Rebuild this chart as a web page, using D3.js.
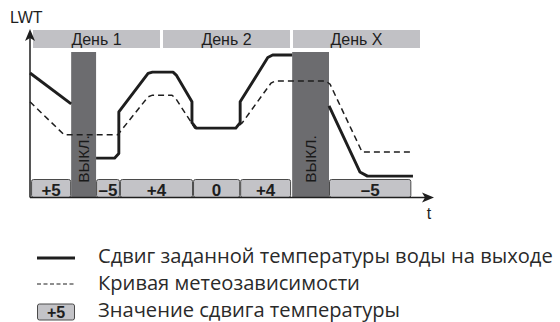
<!DOCTYPE html>
<html>
<head>
<meta charset="utf-8">
<script src="https://cdn.jsdelivr.net/npm/d3@7"></script>
<style>
  body { margin: 0; background: #fff; }
  svg { display: block; }
</style>
</head>
<body>
<svg id="chart" width="560" height="322"></svg>
<script>
// time in hours, LWT in °C
const days = ["День 1", "День 2", "День X"];
const dayStart = [0, 24, 48];
const dayEnd = [24, 48, 72];

const offPeriods = [[7.6, 12.2], [48.4, 55.2]];
const offLabel = "ВЫКЛ.";

const shiftLabels = ["+5", "–5", "+4", "0", "+4", "–5"];
const shiftStart = [0.2, 12.2, 16.6, 30.1, 38.8, 55.2];
const shiftEnd = [7.6, 16.6, 30.1, 38.8, 48.2, 70.4];

// solid line: shifted setpoint (three separate pieces)
const shiftedSegments = [
  [[0, 49.7], [7.6, 42.3]],
  [[12.2, 29.3], [15.6, 29.3], [16.4, 30.4], [16.4, 40.4], [21.8, 49.6], [22.6, 49.9],
   [26.4, 49.9], [27.0, 49.2], [29.9, 42.8], [29.9, 37.8], [30.7, 36.5],
   [38.0, 36.5], [38.8, 37.8], [38.8, 42.8], [43.9, 53.4], [44.8, 54.0], [48.4, 54.0]],
  [[55.2, 41.8], [60.9, 26.0], [62.3, 25.0], [70.7, 25.0]]
];

// dashed line: weather dependent curve
const weatherCurve = [
  [0, 42.8], [6.3, 34.9], [16.2, 34.9], [21.8, 44.0], [22.6, 44.4], [26.2, 44.4],
  [26.9, 43.6], [29.5, 38.4], [30.4, 36.5], [38.0, 36.5], [39.2, 37.8],
  [44.5, 47.3], [45.3, 47.8], [54.6, 47.8], [55.4, 47.0], [61.3, 30.8], [70.7, 30.8]
];

const legendItems = [
  "Сдвиг заданной температуры воды на выходе",
  "Кривая метеозависимости",
  "Значение сдвига температуры"
];

const svg = d3.select("#chart");

const x = d3.scaleLinear().domain([0, 72]).range([30, 420]);
const y = d3.scaleLinear().domain([20, 60]).range([197, 30]);

const dark = "#1e1e1e";
const font = "Liberation Sans, Arial, sans-serif";

// day header bars
const hdr = svg.append("g");
hdr.selectAll("rect")
  .data(days)
  .join("rect")
  .attr("x", (d, i) => x(dayStart[i]) + 3)
  .attr("y", 30)
  .attr("width", (d, i) => x(dayEnd[i]) - x(dayStart[i]) - 3)
  .attr("height", 18)
  .attr("fill", "#c1c1c5");
hdr.selectAll("text")
  .data(days)
  .join("text")
  .attr("x", (d, i) => (x(dayStart[i]) + 3 + x(dayEnd[i])) / 2)
  .attr("y", 45)
  .attr("text-anchor", "middle")
  .style("font-family", font)
  .style("font-size", "16px")
  .attr("fill", dark)
  .text(d => d);

// off periods
const off = svg.append("g");
off.selectAll("rect")
  .data(offPeriods)
  .join("rect")
  .attr("x", d => x(d[0]))
  .attr("y", 52)
  .attr("width", d => x(d[1]) - x(d[0]))
  .attr("height", 197 - 52)
  .attr("fill", "#6c6c6f");
off.selectAll("text")
  .data(offPeriods)
  .join("text")
  .attr("transform", d => `translate(${(x(d[0]) + x(d[1])) / 2 + 5.5},159) rotate(-90)`)
  .attr("text-anchor", "middle")
  .style("font-family", font)
  .style("font-size", "15.5px")
  .attr("fill", "#1a1a1a")
  .text(offLabel);

// shift value boxes
const boxes = svg.append("g");
boxes.selectAll("rect")
  .data(shiftLabels)
  .join("rect")
  .attr("x", (d, i) => x(shiftStart[i]) + 0.5)
  .attr("y", 179.5)
  .attr("width", (d, i) => x(shiftEnd[i]) - x(shiftStart[i]) - 1)
  .attr("height", 18)
  .attr("rx", 2)
  .attr("fill", "#c3c3c7")
  .attr("stroke", "#4a4a4a")
  .attr("stroke-width", 1);
boxes.selectAll("text")
  .data(shiftLabels)
  .join("text")
  .attr("x", (d, i) => (x(shiftStart[i]) + x(shiftEnd[i])) / 2)
  .attr("y", 196)
  .attr("text-anchor", "middle")
  .style("font-family", font)
  .style("font-size", "17px")
  .style("font-weight", "bold")
  .attr("fill", dark)
  .text(d => d);

const line = d3.line().x(d => x(d[0])).y(d => y(d[1]));

svg.append("path")
  .attr("d", line(weatherCurve))
  .attr("fill", "none")
  .attr("stroke", dark)
  .attr("stroke-width", 1.5)
  .attr("stroke-dasharray", "6,4");

svg.append("g")
  .selectAll("path")
  .data(shiftedSegments)
  .join("path")
  .attr("d", line)
  .attr("fill", "none")
  .attr("stroke", dark)
  .attr("stroke-width", 2.9)
  .attr("stroke-linejoin", "round");

// axes with arrow heads
const ax = svg.append("g").attr("fill", dark).attr("stroke", dark);
ax.append("line").attr("x1", 30).attr("y1", 197.5).attr("x2", 30).attr("y2", 36).attr("stroke-width", 1.5);
ax.append("line").attr("x1", 30).attr("y1", 197.5).attr("x2", 427).attr("y2", 197.5).attr("stroke-width", 1.5);
ax.append("path").attr("stroke", "none").attr("d", "M30,29 L35,41 L30,38 L25,41 Z");
ax.append("path").attr("stroke", "none").attr("d", "M434,197.5 L422,192.5 L425,197.5 L422,202.5 Z");

svg.append("text")
  .attr("x", 10).attr("y", 23)
  .style("font-family", font)
  .style("font-size", "16px")
  .attr("fill", dark)
  .text("LWT");
svg.append("text")
  .attr("x", 429).attr("y", 219)
  .attr("text-anchor", "middle")
  .style("font-family", font)
  .style("font-size", "16px")
  .attr("fill", dark)
  .text("t");

// legend
const legY = [263, 290, 317];
const leg = svg.append("g");
leg.append("line").attr("x1", 37).attr("x2", 75).attr("y1", legY[0] - 5).attr("y2", legY[0] - 5)
  .attr("stroke", dark).attr("stroke-width", 3);
leg.append("line").attr("x1", 37).attr("x2", 75).attr("y1", legY[1] - 6).attr("y2", legY[1] - 6)
  .attr("stroke", dark).attr("stroke-width", 1.1).attr("stroke-dasharray", "4,2.5");
leg.append("rect").attr("x", 37.5).attr("y", legY[2] - 13).attr("width", 37).attr("height", 16).attr("rx", 2)
  .attr("fill", "#c3c3c7").attr("stroke", "#4a4a4a");
leg.append("text").attr("x", 56).attr("y", legY[2] + 0.5)
  .attr("text-anchor", "middle")
  .style("font-family", font)
  .style("font-size", "16px").style("font-weight", "bold")
  .attr("fill", dark).text(shiftLabels[0]);

const legText = leg.selectAll("text.lbl")
  .data(legendItems)
  .join("text")
  .attr("class", "lbl")
  .attr("x", 98)
  .attr("y", (d, i) => legY[i])
  .style("font-family", "Open Sans, sans-serif")
  .style("font-size", "16px")
  .attr("fill", "#2a2a2a")
  .text(d => d);

// fit the first line to its width in the picture
const w0 = legText.node().getComputedTextLength();
legText.style("font-size", (16 * 455 / w0).toFixed(2) + "px");
</script>
</body>
</html>
